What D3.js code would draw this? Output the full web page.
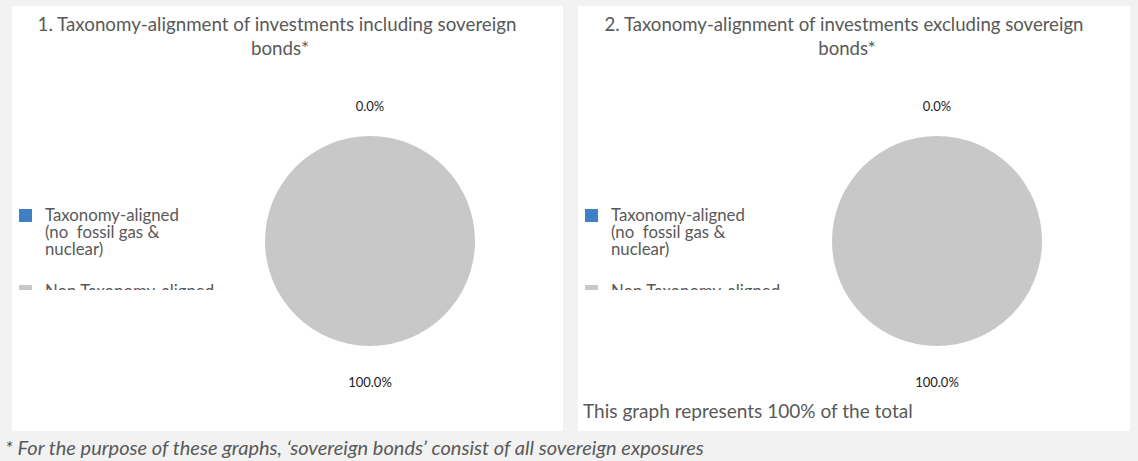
<!DOCTYPE html>
<html>
<head>
<meta charset="utf-8">
<script src="https://cdn.jsdelivr.net/npm/d3@7"></script>
<style>
  body { margin: 0; background: #f2f2f2; }
  svg { display: block; }
  text { white-space: pre; }
</style>
</head>
<body>
<script>
// chart data
var categories = ['Taxonomy-aligned (no  fossil gas & nuclear)', 'Non Taxonomy-aligned'];
var legendLines = [['Taxonomy-aligned', '(no  fossil gas &', 'nuclear)'], ['Non Taxonomy-aligned']];
var valuesIncl = [0, 100];
var valuesExcl = [0, 100];
var sliceLabels = ['0.0%', '100.0%'];
var titles = [
  ['1. Taxonomy-alignment of investments including sovereign', 'bonds*'],
  ['2. Taxonomy-alignment of investments excluding sovereign', 'bonds*']
];
var note = 'This graph represents 100% of the total';
var footnote = '* For the purpose of these graphs, \u2018sovereign bonds\u2019 consist of all sovereign exposures';

var W = 1138, H = 461;
var FONT = 'Lato, Open Sans, sans-serif';
var svg = d3.select('body').append('svg').attr('width', W).attr('height', H);
svg.append('rect').attr('width', W).attr('height', H).attr('fill', '#f2f2f2');

var color = d3.scaleOrdinal().domain(categories).range(['#3f7fc6', '#c8c8c8']);
var pie = d3.pie().sort(null).value(function (d) { return d; });
var r = 105;
var arc = d3.arc().innerRadius(0).outerRadius(r);
var labelArc = d3.arc().innerRadius(r + 33).outerRadius(r + 33);

// fit a text node to a target width by adjusting font size
function fitWidth(sel, target) {
  var fs = parseFloat(sel.attr('font-size'));
  var w = sel.node().getComputedTextLength();
  sel.attr('font-size', (fs * target / w).toFixed(2));
}

var panels = [
  { x: 12, w: 551, cx: 370, tx: 277, values: valuesIncl, note: false },
  { x: 578, w: 552, cx: 937, tx: 844, values: valuesExcl, note: true }
];

panels.forEach(function (p, i) {
  var g = svg.append('g');
  g.append('rect').attr('x', p.x).attr('y', 6).attr('width', p.w).attr('height', 425).attr('fill', '#ffffff');

  // title
  var t1 = g.append('text').attr('x', p.tx).attr('y', 31).attr('text-anchor', 'middle')
    .attr('font-family', FONT).attr('font-size', 16).attr('fill', '#595959')
    .text(titles[i][0]);
  fitWidth(t1, 479);
  g.append('text').attr('x', p.tx + 3).attr('y', 55).attr('text-anchor', 'middle')
    .attr('font-family', FONT).attr('font-size', t1.attr('font-size')).attr('fill', '#595959')
    .text(titles[i][1]);

  // pie
  var pg = g.append('g').attr('transform', 'translate(' + p.cx + ',241)');
  var arcs = pie(p.values);
  pg.selectAll('path').data(arcs).enter().append('path')
    .attr('d', arc)
    .attr('fill', function (d, j) { return color(categories[j]); });
  pg.selectAll('text').data(arcs).enter().append('text')
    .attr('transform', function (d) { var c = labelArc.centroid(d); return 'translate(' + c[0] + ',' + (c[1] + 3) + ')'; })
    .attr('dy', '0.35em')
    .attr('text-anchor', 'middle')
    .attr('font-family', FONT).attr('font-size', 13).attr('fill', '#1a1a1a')
    .text(function (d, j) { return sliceLabels[j]; });

  // legend, clipped like the original
  var clipId = 'legclip' + i;
  svg.append('clipPath').attr('id', clipId).append('rect')
    .attr('x', p.x).attr('y', 195).attr('width', 250).attr('height', 95);
  var lg = g.append('g').attr('clip-path', 'url(#' + clipId + ')');
  var lx = p.x + 7, ly = 209;
  var legFs = 14.5;
  legendLines.forEach(function (lines, k) {
    var y0 = ly + k * 76;
    lg.append('rect').attr('x', lx).attr('y', y0).attr('width', 13).attr('height', 13)
      .attr('fill', color(categories[k]));
    var tx = lg.append('text').attr('x', lx + 26).attr('y', y0 + 12)
      .attr('font-family', FONT).attr('font-size', legFs).attr('fill', '#595959');
    lines.forEach(function (ln, m) {
      tx.append('tspan').attr('x', lx + 26).attr('dy', m === 0 ? 0 : 17).text(ln);
    });
    if (k === 0) {
      var w = tx.select('tspan').node().getComputedTextLength();
      legFs = legFs * 134 / w;
      tx.attr('font-size', legFs.toFixed(2));
    }
  });

  if (p.note) {
    var nt = g.append('text').attr('x', p.x + 5).attr('y', 418)
      .attr('font-family', FONT).attr('font-size', 15.5).attr('fill', '#595959')
      .text(note);
    fitWidth(nt, 330);
  }
});

var fn = svg.append('text').attr('x', 5).attr('y', 455)
  .attr('font-family', FONT).attr('font-style', 'italic').attr('font-size', 16)
  .attr('fill', '#595959').text(footnote);
fitWidth(fn, 699);
</script>
</body>
</html>
